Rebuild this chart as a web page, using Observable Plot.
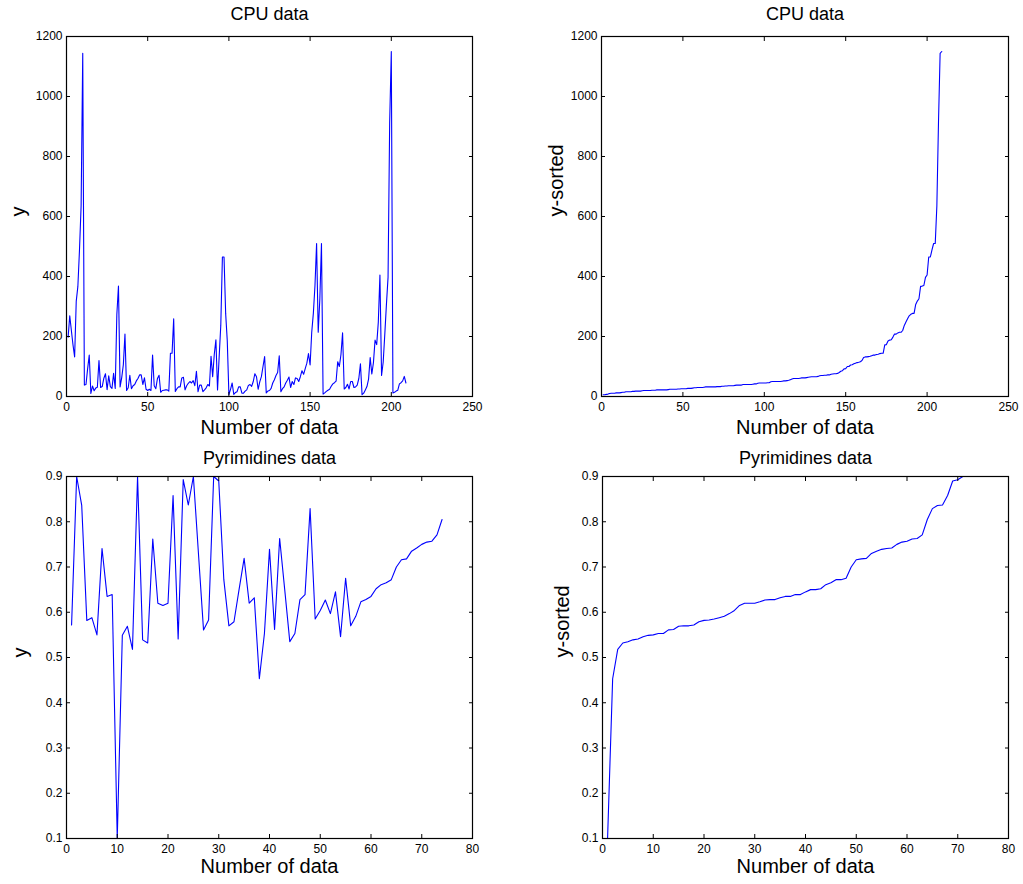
<!DOCTYPE html>
<html><head><meta charset="utf-8">
<script src="https://cdn.jsdelivr.net/npm/d3@7"></script>
<script src="https://cdn.jsdelivr.net/npm/@observablehq/plot@0.6"></script>
<style>
body{margin:0;background:#fff;}
#root{position:relative;width:1023px;height:884px;background:#fff;overflow:hidden;}
.panel{position:absolute;}
.panel svg{overflow:visible;}
</style></head><body><div id="root"></div>
<script>
// CPU data (209 values), in original order
const cpuValues = [
198,269,220,172,132,318,367,489,636,1144,
38,40,92,138,10,35,19,28,31,120,
30,33,61,76,23,69,33,27,77,27,
274,368,32,63,106,208,20,29,71,26,
36,40,52,60,72,72,40,62,24,20,
24,20,138,36,26,60,71,14,20,21,
22,22,18,144,144,259,17,26,32,32,
62,64,22,36,44,50,45,53,36,84,
16,38,38,16,22,29,40,35,134,66,
141,189,22,132,237,465,465,277,185,6,
24,45,7,13,16,32,32,11,11,18,
22,37,40,34,50,76,66,24,49,66,
100,133,12,18,20,27,45,56,70,80,
136,16,26,32,45,54,65,30,50,40,
62,60,50,66,86,74,93,111,143,105,
214,277,370,510,214,326,510,8,12,17,
21,24,34,42,46,51,116,100,140,212,
25,30,41,25,50,50,30,32,38,60,
109,6,11,22,33,58,130,75,113,188,
173,248,405,70,114,208,307,397,915,1150,
12,14,18,21,42,46,52,67,45
];
// Pyrimidines data (74 values), in original order
const pyrValues = [
0.572,0.900,0.836,0.582,0.588,0.550,0.741,0.635,0.639,0.100,
0.549,0.569,0.518,0.900,0.539,0.532,0.762,0.620,0.615,0.620,
0.858,0.541,0.893,0.837,0.900,0.730,0.561,0.583,0.900,0.890,
0.672,0.570,0.579,0.650,0.719,0.620,0.632,0.453,0.553,0.739,
0.562,0.763,0.650,0.535,0.553,0.628,0.639,0.829,0.585,0.604,
0.627,0.597,0.645,0.546,0.675,0.570,0.591,0.623,0.628,0.635,
0.652,0.661,0.665,0.672,0.700,0.716,0.718,0.735,0.742,0.750,
0.755,0.757,0.771,0.805
];
const cpuXTicks = [0,50,100,150,200,250];
const cpuYTicks = [0,200,400,600,800,1000,1200];
const pyrXTicks = [0,10,20,30,40,50,60,70,80];
const pyrYTicks = [0.1,0.2,0.3,0.4,0.5,0.6,0.7,0.8,0.9];
const titleCPU = "CPU data";
const titlePyr = "Pyrimidines data";
const xLabel = "Number of data";
const yLabelRaw = "y";
const yLabelSorted = "y-sorted";

const FONT = '"Liberation Sans", Arial, Helvetica, sans-serif';

function panel(o) {
  const data = o.values.map((v, i) => ({i: i + 1, v}));
  const noText = () => "";
  const plot = Plot.plot({
    width: o.width, height: o.height,
    marginLeft: o.mL, marginRight: o.mR, marginTop: o.mT, marginBottom: o.mB,
    style: {background: "transparent", fontFamily: FONT, fontSize: "12px", color: "black", overflow: "visible"},
    x: {domain: o.xDomain, label: null},
    y: {domain: o.yDomain, label: null},
    marks: [
      Plot.line(data, {x: "i", y: "v", stroke: "#0000ff", strokeWidth: 1.1, clip: true}),
      Plot.axisX(o.xTicks, {anchor: "bottom", tickSize: -4, tickPadding: 10, label: null, tickFormat: d => String(d), fontSize: 12}),
      Plot.axisX(o.xTicks, {anchor: "top", tickSize: -4, label: null, tickFormat: noText}),
      Plot.axisY(o.yTicks, {anchor: "left", tickSize: -4, tickPadding: 8, label: null, tickFormat: o.yFmt, fontSize: 12}),
      Plot.axisY(o.yTicks, {anchor: "right", tickSize: -4, label: null, tickFormat: noText}),
      Plot.frame({stroke: "black", strokeWidth: 1.2}),
      Plot.text([o.title], {text: d => d, frameAnchor: "top", lineAnchor: "middle", dy: o.titleDy, fontSize: 18, fill: "black"}),
      Plot.text([xLabel], {text: d => d, frameAnchor: "bottom", lineAnchor: "middle", dy: o.xLabelDy, fontSize: 20, fill: "black"}),
      Plot.text([o.yLabel], {text: d => d, frameAnchor: "left", lineAnchor: "middle", dx: o.yLabelDx, rotate: -90, fontSize: 20, fill: "black"})
    ]
  });
  const div = document.createElement("div");
  div.className = "panel";
  div.style.left = o.left + "px";
  div.style.top = o.top + "px";
  div.appendChild(plot);
  document.getElementById("root").appendChild(div);
}

const cpuSorted = d3.sort(cpuValues);
const pyrSorted = d3.sort(pyrValues);
const fmtInt = d => String(d);
const fmt1 = d => d.toFixed(1);

panel({values: cpuValues, xDomain: [0, 250], yDomain: [0, 1200], xTicks: cpuXTicks, yTicks: cpuYTicks, yFmt: fmtInt,
  title: titleCPU, yLabel: yLabelRaw, left: 0, top: 0, width: 520, height: 440, mL: 66, mR: 48, mT: 36, mB: 44,
  titleDy: -22, xLabelDy: 31, yLabelDx: -48});
panel({values: cpuSorted, xDomain: [0, 250], yDomain: [0, 1200], xTicks: cpuXTicks, yTicks: cpuYTicks, yFmt: fmtInt,
  title: titleCPU, yLabel: yLabelSorted, left: 520, top: 0, width: 503, height: 440, mL: 81, mR: 15, mT: 36, mB: 44,
  titleDy: -22, xLabelDy: 31, yLabelDx: -45});
panel({values: pyrValues, xDomain: [0, 80], yDomain: [0.1, 0.9], xTicks: pyrXTicks, yTicks: pyrYTicks, yFmt: fmt1,
  title: titlePyr, yLabel: yLabelRaw, left: 0, top: 440, width: 520, height: 444, mL: 66, mR: 48, mT: 36, mB: 46,
  titleDy: -18, xLabelDy: 28, yLabelDx: -46});
panel({values: pyrSorted, xDomain: [0, 80], yDomain: [0.1, 0.9], xTicks: pyrXTicks, yTicks: pyrYTicks, yFmt: fmt1,
  title: titlePyr, yLabel: yLabelSorted, left: 520, top: 440, width: 503, height: 444, mL: 82, mR: 15, mT: 36, mB: 46,
  titleDy: -18, xLabelDy: 28, yLabelDx: -40});
</script></body></html>
